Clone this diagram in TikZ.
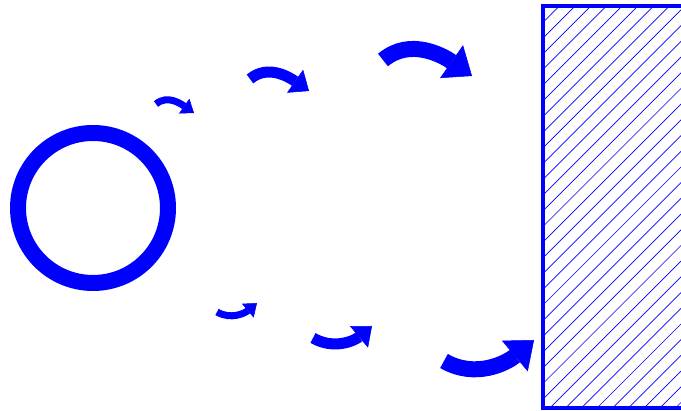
\documentclass[tikz,border=0pt]{standalone}
\usepackage{xcolor}
\definecolor{cMain}{HTML}{0000FF}
\usepackage{tikz}
\usetikzlibrary{arrows.meta}
\tikzset{
  body-ring/.style={draw=cMain,line width=16pt},
  wall-edge/.style={draw=cMain,line width=3.5pt},
  wall-hatch/.style={draw=cMain,line width=0.7pt},
  wave-s/.style={draw=cMain,line width=7pt,
    -{Triangle[length=12pt,width=18pt,line width=0.5pt]}},
  wave-m/.style={draw=cMain,line width=11pt,
    -{Triangle[length=17pt,width=28pt,line width=0.5pt]}},
  wave-l/.style={draw=cMain,line width=16pt,
    -{Triangle[length=25pt,width=40pt,line width=0.5pt]}},
}

\begin{document}
\begin{tikzpicture}[x=1pt,y=1pt]
  \useasboundingbox (0,0) rectangle (681,411);
  % ring on the left
  \coordinate (ring-c) at (93,203);
  \draw[body-ring] (ring-c) circle[radius=75];
  % hatched wall on the right
  \begin{scope}
    \clip (543,3) rectangle (690,405);
    \foreach \k in {0,...,37}
      \draw[wall-hatch] (123+15.7*\k,0) -- ++(420,420);
  \end{scope}
  \draw[wall-edge] (690,3) -- (543,3) -- (543,405) -- (690,405);
  % upper row of arrows
  \coordinate (up-s-a) at (156,307);  \coordinate (up-s-b) at (194,298);
  \coordinate (up-m-a) at (250,332);  \coordinate (up-m-b) at (309,320);
  \coordinate (up-l-a) at (383,351);  \coordinate (up-l-b) at (472,335);
  \draw[wave-s] (up-s-a) to[out=40,in=145] (up-s-b);
  \draw[wave-m] (up-m-a) to[out=40,in=145] (up-m-b);
  \draw[wave-l] (up-l-a) to[out=40,in=145] (up-l-b);
  % lower row of arrows
  \coordinate (lo-s-a) at (217,99);   \coordinate (lo-s-b) at (257,108);
  \coordinate (lo-m-a) at (313,73);   \coordinate (lo-m-b) at (372,85);
  \coordinate (lo-l-a) at (444,50);   \coordinate (lo-l-b) at (534,71);
  \draw[wave-s] (lo-s-a) to[out=-30,in=-140] (lo-s-b);
  \draw[wave-m] (lo-m-a) to[out=-30,in=-140] (lo-m-b);
  \draw[wave-l] (lo-l-a) to[out=-30,in=-140] (lo-l-b);
\end{tikzpicture}
\end{document}
